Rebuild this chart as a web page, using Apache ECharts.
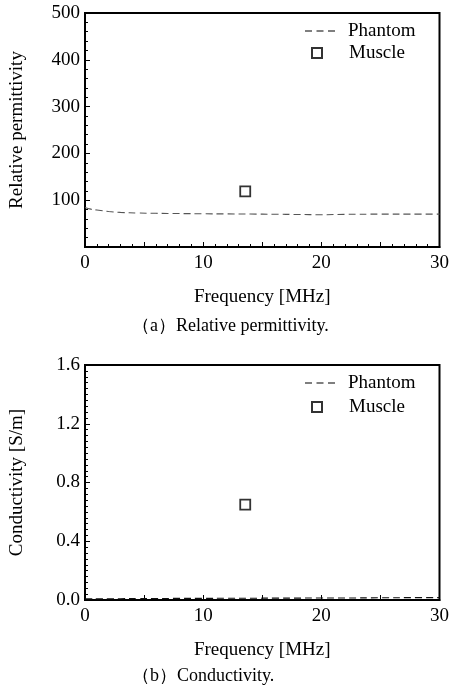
<!DOCTYPE html>
<html>
<head>
<meta charset="utf-8">
<script src="https://cdn.jsdelivr.net/npm/echarts@6/dist/echarts.min.js"></script>
<style>
  html, body { margin: 0; padding: 0; background: #fff; }
  #main { width: 452px; height: 697px; }
</style>
</head>
<body>
<div id="main"></div>
<script>
// phantom curve (frequency in MHz)
var phantomFreq = [0, 0.5, 1, 2, 3, 4.5, 6, 8, 10, 12, 14, 16, 18, 20, 22, 25, 28, 30];
var phantomPerm = [84.5, 81, 79, 76, 74, 72.6, 72, 71.5, 71, 70.7, 70.4, 70, 69.5, 69, 69.8, 70.2, 70.3, 70.3];
var phantomCond = [0.008, 0.008, 0.008, 0.009, 0.009, 0.01, 0.01, 0.011, 0.011, 0.012, 0.012, 0.013, 0.013, 0.014, 0.014, 0.015, 0.016, 0.016];

// muscle value at 13.56 MHz
var muscleFreq = [13.56];
var musclePerm = [119];
var muscleCond = [0.65];

var captions = ['（a）Relative permittivity.', '（b）Conductivity.'];

var font = 'Liberation Serif';
// three short dashes for the legend key of the dashed line
var dashIcon = 'path://M0,0h7v1h-7zM11.5,0h7v1h-7zM23,0h7v1h-7z';

function zip(xs, ys) {
  var out = [];
  for (var i = 0; i < xs.length; i++) out.push([xs[i], ys[i]]);
  return out;
}

function xAxisFor(gridIndex, withMinor) {
  return {
    gridIndex: gridIndex,
    type: 'value',
    min: 0, max: 30, interval: 5,
    name: 'Frequency [MHz]',
    nameLocation: 'middle',
    nameGap: 41,
    nameTextStyle: { fontFamily: font, fontSize: 19, color: '#000' },
    axisLine: { onZero: false, lineStyle: { color: '#000', width: 2 } },
    axisTick: { inside: true, length: 5, lineStyle: { color: '#000', width: 1 } },
    minorTick: { show: withMinor, splitNumber: 5, length: 3, lineStyle: { color: '#000', width: 1 } },
    axisLabel: {
      fontFamily: font, fontSize: 19, color: '#000', margin: 7,
      formatter: function (v) { return v % 10 === 0 ? String(v) : ''; }
    },
    splitLine: { show: false }
  };
}

function legendFor(name, top) {
  if (name === 'Phantom') {
    return {
      data: [{ name: 'Phantom', icon: dashIcon }], left: 305, top: top, padding: 0,
      itemWidth: 30, itemHeight: 1.4,
      itemStyle: { color: '#000', borderWidth: 0 },
      textStyle: { fontFamily: font, fontSize: 19, color: '#000', lineHeight: 20, padding: [0, 0, 0, 8] }
    };
  }
  return {
    data: ['Muscle'], left: 311, top: top, padding: 0, itemWidth: 10, itemHeight: 10,
    textStyle: { fontFamily: font, fontSize: 19, color: '#000', lineHeight: 20, padding: [0, 0, 0, 22] }
  };
}

var option = {
  backgroundColor: '#fff',
  animation: false,
  grid: [
    { left: 85, right: 11, top: 13, height: 234, show: true, borderColor: '#000', borderWidth: 2 },
    { left: 85, right: 11, top: 365, height: 235, show: true, borderColor: '#000', borderWidth: 2 }
  ],
  title: [
    { text: captions[0], left: 127, top: 312, textStyle: { fontFamily: font, fontSize: 18, fontWeight: 'normal', color: '#000' } },
    { text: captions[1], left: 127, top: 662, textStyle: { fontFamily: font, fontSize: 18, fontWeight: 'normal', color: '#000' } }
  ],
  legend: [
    legendFor('Phantom', 21),
    legendFor('Muscle', 43),
    legendFor('Phantom', 373),
    legendFor('Muscle', 397)
  ],
  xAxis: [xAxisFor(0, true), xAxisFor(1, false)],
  yAxis: [
    {
      gridIndex: 0,
      type: 'value',
      min: 0, max: 500, interval: 100,
      name: 'Relative permittivity',
      nameLocation: 'middle',
      nameGap: 58,
      nameTextStyle: { fontFamily: font, fontSize: 19, color: '#000' },
      axisLine: { show: true, lineStyle: { color: '#000', width: 2 } },
      axisTick: { show: true, inside: true, length: 5, lineStyle: { color: '#000', width: 1 } },
      minorTick: { show: true, splitNumber: 5, length: 3, lineStyle: { color: '#000', width: 1 } },
      axisLabel: {
        fontFamily: font, fontSize: 19, color: '#000', margin: 5,
        formatter: function (v) { return v === 0 ? '' : String(v); }
      },
      splitLine: { show: false }
    },
    {
      gridIndex: 1,
      type: 'value',
      min: 0, max: 1.6, interval: 0.4,
      name: 'Conductivity [S/m]',
      nameLocation: 'middle',
      nameGap: 58,
      nameTextStyle: { fontFamily: font, fontSize: 19, color: '#000' },
      axisLine: { show: true, lineStyle: { color: '#000', width: 2 } },
      axisTick: { show: true, inside: true, length: 5, lineStyle: { color: '#000', width: 1 } },
      minorTick: { show: true, splitNumber: 10, length: 3, lineStyle: { color: '#000', width: 1 } },
      axisLabel: {
        fontFamily: font, fontSize: 19, color: '#000', margin: 5,
        formatter: function (v) { return v.toFixed(1); }
      },
      splitLine: { show: false }
    }
  ],
  series: [
    {
      name: 'Phantom', type: 'line', xAxisIndex: 0, yAxisIndex: 0,
      data: zip(phantomFreq, phantomPerm),
      smooth: true, showSymbol: false, symbol: 'none',
      lineStyle: { color: '#555', width: 1.1, type: [7, 4] },
      itemStyle: { color: '#000' }
    },
    {
      name: 'Muscle', type: 'scatter', xAxisIndex: 0, yAxisIndex: 0,
      data: zip(muscleFreq, musclePerm),
      symbol: 'rect', symbolSize: 10,
      itemStyle: { color: '#fff', borderColor: '#000', borderWidth: 1.8 }
    },
    {
      name: 'Phantom', type: 'line', xAxisIndex: 1, yAxisIndex: 1,
      data: zip(phantomFreq, phantomCond),
      smooth: true, showSymbol: false, symbol: 'none',
      lineStyle: { color: '#111', width: 1.1, type: [7, 4] },
      itemStyle: { color: '#000' }
    },
    {
      name: 'Muscle', type: 'scatter', xAxisIndex: 1, yAxisIndex: 1,
      data: zip(muscleFreq, muscleCond),
      symbol: 'rect', symbolSize: 10,
      itemStyle: { color: '#fff', borderColor: '#000', borderWidth: 1.8 }
    }
  ]
};

var myChart = echarts.init(document.getElementById('main'));
myChart.setOption(option);
</script>
</body>
</html>
